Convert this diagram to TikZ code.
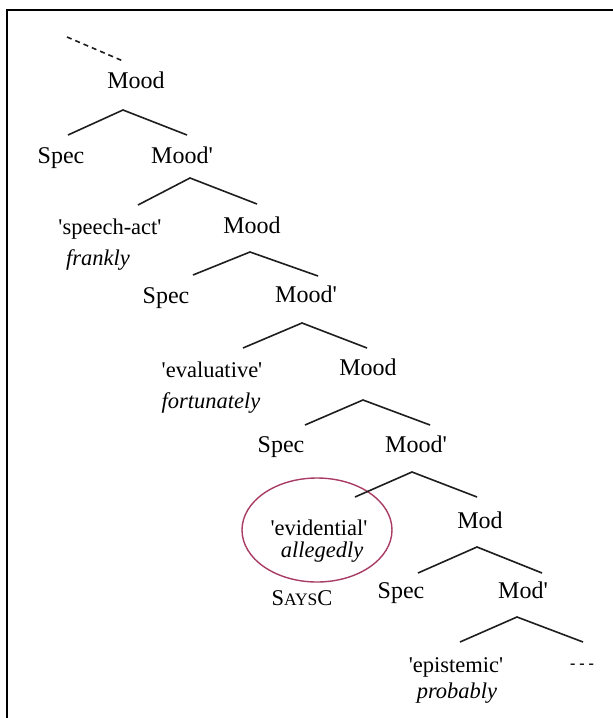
\documentclass[tikz,border=0pt]{standalone}
\usepackage{fontspec}
\setmainfont{Liberation Serif}
\newcommand{\sq}{\textquotesingle}
\begin{document}
\begin{tikzpicture}[x=1pt,y=-1pt,
  lbl/.style={inner sep=0pt,anchor=base,font=\fontsize{24}{28}\selectfont},
  qlbl/.style={inner sep=0pt,anchor=base,font=\fontsize{22.5}{26}\selectfont},
  branch/.style={line width=1.6pt,draw={rgb,255:red,30;green,30;blue,30}}
]
\definecolor{circ}{RGB}{168,60,100}
\useasboundingbox (0,0) rectangle (613,718);
\fill[white] (0,0) rectangle (613,718);
% frame
\draw[line width=1.6pt] (7,718) -- (7,10) -- (613,10);
% dashed edge
\coordinate (d1) at (67,37);
\coordinate (d2) at (123,61);
\draw[branch,dash pattern=on 5pt off 4pt] (d1) -- (d2);
% nodes
\node[lbl] (m1) at (136,88) {Mood};
\node[lbl] (s1) at (61,163) {Spec};
\node[lbl] (mb1) at (182,163) {Mood\sq};
\node[qlbl] (sa) at (110,234) {\sq speech-act\sq};
\node[qlbl] (sai) at (98,265) {\itshape frankly};
\node[lbl] (m2) at (252,233) {Mood};
\node[lbl] (s2) at (166,303) {Spec};
\node[lbl] (mb2) at (306,302) {Mood\sq};
\node[qlbl] (ev) at (212,377) {\sq evaluative\sq};
\node[qlbl] (evi) at (211,408) {\itshape fortunately};
\node[lbl] (m3) at (368,375) {Mood};
\node[lbl] (s3) at (281,452) {Spec};
\node[lbl] (mb3) at (416,452) {Mood\sq};
\node[qlbl] (evd) at (319,535) {\sq evidential\sq};
\node[qlbl] (evdi) at (322,557) {\itshape allegedly};
\node[qlbl] (says) at (302,605) {S{\fontsize{17.5}{20}\selectfont AYS}C};
\node[lbl] (md) at (480,528) {Mod};
\node[lbl] (s4) at (401,598) {Spec};
\node[lbl] (mdb) at (523,598) {Mod\sq};
\node[qlbl] (ep) at (456,672) {\sq epistemic\sq};
\node[qlbl] (epi) at (457,698) {\itshape probably};
\node[inner sep=0pt,anchor=base,font=\bfseries\fontsize{16}{18}\selectfont] (dots) at (582,668) {- - -};
% circle
\draw[line width=1.4pt,circ] (317,530) ellipse [x radius=75, y radius=52];
% branches
\coordinate (a1) at (123,110); \coordinate (l1) at (68,135); \coordinate (r1) at (187,135);
\coordinate (a2) at (190,178); \coordinate (l2) at (138,205); \coordinate (r2) at (257,204);
\coordinate (a3) at (250,252); \coordinate (l3) at (193,275); \coordinate (r3) at (318,276);
\coordinate (a4) at (302,323); \coordinate (l4) at (243,348); \coordinate (r4) at (367,348);
\coordinate (a5) at (363,400); \coordinate (l5) at (305,425); \coordinate (r5) at (430,425);
\coordinate (a6) at (412,472); \coordinate (l6) at (355,497); \coordinate (r6) at (477,497);
\coordinate (a7) at (477,547); \coordinate (l7) at (418,573); \coordinate (r7) at (542,573);
\coordinate (a8) at (517,617); \coordinate (l8) at (460,642); \coordinate (r8) at (583,642);
\foreach \i in {1,...,8}{
  \draw[branch] (l\i) -- (a\i) -- (r\i);
}
\end{tikzpicture}
\end{document}
